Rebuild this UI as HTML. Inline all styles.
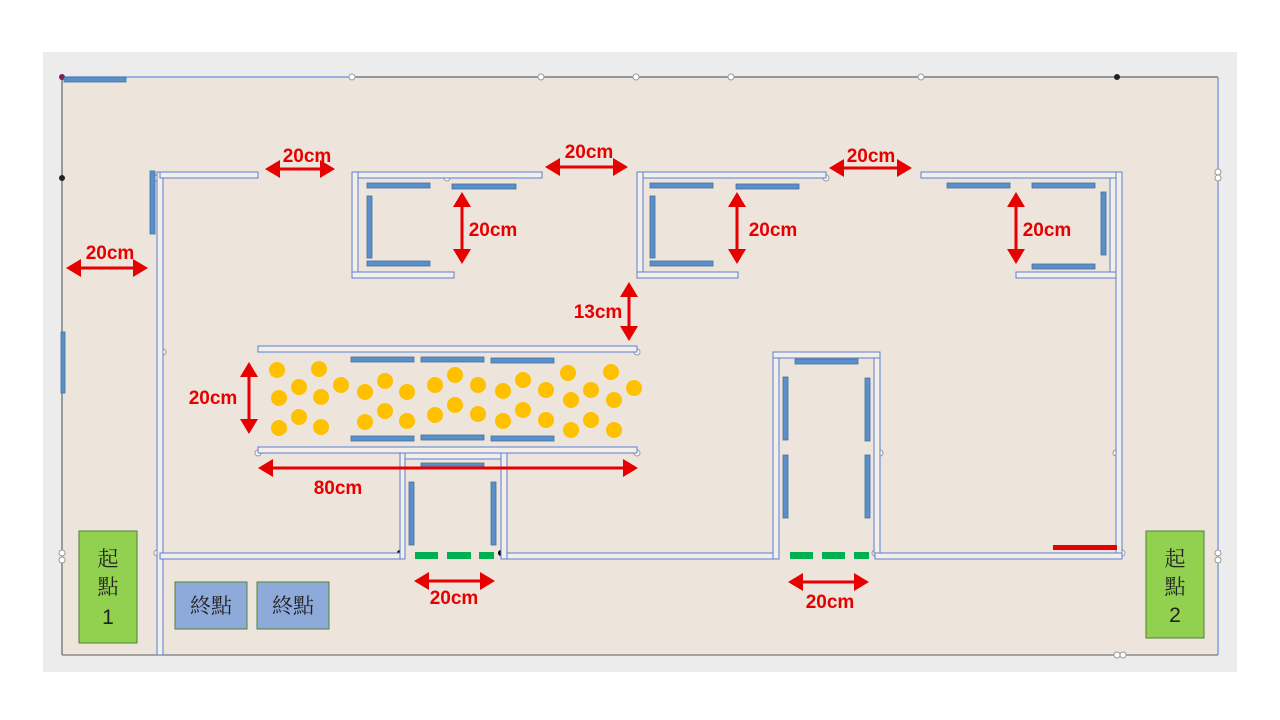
<!DOCTYPE html>
<html><head><meta charset="utf-8"><style>body{margin:0;background:#fff}svg{display:block}</style></head><body>
<svg width="1280" height="720" xmlns="http://www.w3.org/2000/svg" font-family="Liberation Sans, sans-serif">
<defs>
<marker id="h" markerWidth="6" markerHeight="6" refX="4" refY="3" orient="auto-start-reverse" markerUnits="strokeWidth"><path d="M0,0 L5,3 L0,6 z" fill="#e60000"/></marker>
</defs>
<rect x="43" y="52" width="1194" height="620" fill="#ececec"/>
<rect x="62" y="77" width="1156" height="578" fill="#ede5db"/>
<g stroke-width="1.2" fill="none">
<line x1="62" y1="77" x2="352" y2="77" stroke="#6a8ee0"/>
<line x1="352" y1="77" x2="1218" y2="77" stroke="#666"/>
<line x1="62" y1="77" x2="62" y2="655" stroke="#666"/>
<line x1="62" y1="655" x2="1218" y2="655" stroke="#777"/>
<line x1="1218" y1="77" x2="1218" y2="655" stroke="#6a8ee0"/>
</g>
<g fill="#fff" stroke="#999" stroke-width="1">
<circle cx="352" cy="77" r="3"/><circle cx="541" cy="77" r="3"/><circle cx="636" cy="77" r="3"/><circle cx="731" cy="77" r="3"/><circle cx="921" cy="77" r="3"/>
<circle cx="1218" cy="172" r="3"/><circle cx="1218" cy="178" r="3"/><circle cx="1218" cy="553" r="3"/><circle cx="1218" cy="560" r="3"/>
<circle cx="1117" cy="655" r="3"/><circle cx="1123" cy="655" r="3"/><circle cx="62" cy="553" r="3"/><circle cx="62" cy="560" r="3"/>
<circle cx="157" cy="178" r="3"/><circle cx="447" cy="178" r="3"/><circle cx="826" cy="178" r="3"/><circle cx="163" cy="352" r="3"/><circle cx="157" cy="553" r="3"/>
<circle cx="637" cy="352" r="3"/><circle cx="258" cy="453" r="3"/><circle cx="637" cy="453" r="3"/><circle cx="880" cy="453" r="3"/><circle cx="1116" cy="453" r="3"/><circle cx="875" cy="553" r="3"/><circle cx="1122" cy="553" r="3"/>
</g>
<circle cx="1117" cy="77" r="3" fill="#222"/><circle cx="62" cy="178" r="3" fill="#222"/><circle cx="62" cy="77" r="3" fill="#7a2050"/>
<circle cx="400" cy="553" r="3" fill="#000"/><circle cx="501" cy="553" r="3" fill="#000"/>
<g fill="#f3eee7" stroke="#5b7fd6" stroke-width="1">
<rect x="157" y="172" width="6" height="483"/>
<rect x="160" y="172" width="98" height="6"/>
<rect x="352" y="172" width="190" height="6"/><rect x="352" y="172" width="6" height="106"/><rect x="352" y="272" width="102" height="6"/>
<rect x="637" y="172" width="189" height="6"/><rect x="637" y="172" width="6" height="106"/><rect x="637" y="272" width="101" height="6"/>
<rect x="921" y="172" width="201" height="6"/><rect x="1110" y="178" width="6" height="94"/><rect x="1016" y="272" width="100" height="6"/>
<rect x="1116" y="172" width="6" height="386"/>
<rect x="160" y="553" width="240" height="6"/><rect x="507" y="553" width="272" height="6"/><rect x="875" y="553" width="247" height="6"/>
<rect x="258" y="346" width="379" height="6"/><rect x="258" y="447" width="379" height="6"/>
<rect x="400" y="453" width="5" height="106"/><rect x="501" y="453" width="6" height="106"/><rect x="405" y="453" width="96" height="6"/>
<rect x="773" y="352" width="6" height="207"/><rect x="874" y="352" width="6" height="201"/><rect x="773" y="352" width="107" height="6"/>
</g>
<g fill="#5b8fcc" stroke="#41719c" stroke-width="0.8">
<rect x="64" y="77" width="62" height="5"/><rect x="61" y="332" width="4" height="61"/><rect x="150" y="171" width="5" height="63"/>
<rect x="367" y="183" width="63" height="5"/><rect x="452" y="184" width="64" height="5"/><rect x="367" y="196" width="5" height="62"/><rect x="367" y="261" width="63" height="5"/>
<rect x="650" y="183" width="63" height="5"/><rect x="736" y="184" width="63" height="5"/><rect x="650" y="196" width="5" height="62"/><rect x="650" y="261" width="63" height="5"/>
<rect x="947" y="183" width="63" height="5"/><rect x="1032" y="183" width="63" height="5"/><rect x="1101" y="192" width="5" height="63"/><rect x="1032" y="264" width="63" height="5"/>
<rect x="351" y="357" width="63" height="5"/><rect x="421" y="357" width="63" height="5"/><rect x="491" y="358" width="63" height="5"/>
<rect x="351" y="436" width="63" height="5"/><rect x="421" y="435" width="63" height="5"/><rect x="491" y="436" width="63" height="5"/>
<rect x="421" y="463" width="63" height="3"/><rect x="409" y="482" width="5" height="63"/><rect x="491" y="482" width="5" height="63"/>
<rect x="795" y="359" width="63" height="5"/><rect x="783" y="377" width="5" height="63"/><rect x="865" y="378" width="5" height="63"/><rect x="783" y="455" width="5" height="63"/><rect x="865" y="455" width="5" height="63"/>
</g>
<g fill="#00b050">
<rect x="415" y="552" width="23" height="7"/><rect x="447" y="552" width="24" height="7"/><rect x="479" y="552" width="15" height="7"/>
<rect x="790" y="552" width="23" height="7"/><rect x="822" y="552" width="23" height="7"/><rect x="854" y="552" width="15" height="7"/>
</g>
<rect x="1053" y="545" width="64" height="5" fill="#e60000"/>
<g fill="#ffc000">
<circle cx="277" cy="370" r="8"/><circle cx="319" cy="369" r="8"/><circle cx="299" cy="387" r="8"/><circle cx="341" cy="385" r="8"/><circle cx="279" cy="398" r="8"/><circle cx="321" cy="397" r="8"/><circle cx="365" cy="392" r="8"/><circle cx="385" cy="381" r="8"/><circle cx="407" cy="392" r="8"/><circle cx="299" cy="417" r="8"/><circle cx="279" cy="428" r="8"/><circle cx="321" cy="427" r="8"/><circle cx="365" cy="422" r="8"/><circle cx="385" cy="411" r="8"/><circle cx="407" cy="421" r="8"/>
<circle cx="435" cy="385" r="8"/><circle cx="455" cy="375" r="8"/><circle cx="478" cy="385" r="8"/><circle cx="435" cy="415" r="8"/><circle cx="455" cy="405" r="8"/><circle cx="478" cy="414" r="8"/>
<circle cx="503" cy="391" r="8"/><circle cx="523" cy="380" r="8"/><circle cx="546" cy="390" r="8"/><circle cx="503" cy="421" r="8"/><circle cx="523" cy="410" r="8"/><circle cx="546" cy="420" r="8"/>
<circle cx="568" cy="373" r="8"/><circle cx="611" cy="372" r="8"/><circle cx="591" cy="390" r="8"/><circle cx="571" cy="400" r="8"/><circle cx="614" cy="400" r="8"/><circle cx="634" cy="388" r="8"/><circle cx="591" cy="420" r="8"/><circle cx="571" cy="430" r="8"/><circle cx="614" cy="430" r="8"/>
</g>
<g stroke="#e60000" stroke-width="3" marker-start="url(#h)" marker-end="url(#h)">
<line x1="268" y1="169" x2="332" y2="169"/><line x1="548" y1="167" x2="625" y2="167"/><line x1="832" y1="168" x2="909" y2="168"/><line x1="69" y1="268" x2="145" y2="268"/>
<line x1="462" y1="195" x2="462" y2="261"/><line x1="737" y1="195" x2="737" y2="261"/><line x1="1016" y1="195" x2="1016" y2="261"/>
<line x1="629" y1="285" x2="629" y2="338"/><line x1="249" y1="365" x2="249" y2="431"/>
<line x1="261" y1="468" x2="635" y2="468"/><line x1="417" y1="581" x2="492" y2="581"/><line x1="791" y1="582" x2="866" y2="582"/>
</g>
<g fill="#e60000" font-weight="bold" font-size="19" text-anchor="middle">
<text x="307" y="162">20cm</text><text x="589" y="158">20cm</text><text x="871" y="162">20cm</text><text x="110" y="259">20cm</text>
<text x="493" y="236">20cm</text><text x="773" y="236">20cm</text><text x="1047" y="236">20cm</text><text x="598" y="318">13cm</text><text x="213" y="404">20cm</text>
<text x="338" y="494">80cm</text><text x="454" y="604">20cm</text><text x="830" y="608">20cm</text>
</g>
<g stroke="#538135" stroke-width="1"><rect x="79" y="531" width="58" height="112" fill="#92d050"/><rect x="1146" y="531" width="58" height="107" fill="#92d050"/>
<rect x="175" y="582" width="72" height="47" fill="#8eaadb"/><rect x="257" y="582" width="72" height="47" fill="#8eaadb"/></g>
<g font-family="Liberation Sans, Noto Serif CJK SC, Noto Sans CJK TC, sans-serif" font-size="21" fill="#222" text-anchor="middle">
<text x="108" y="566">起</text><text x="108" y="594">點</text><text x="108" y="624">1</text>
<text x="1175" y="566">起</text><text x="1175" y="594">點</text><text x="1175" y="622">2</text>
<text x="211" y="613">終點</text><text x="293" y="613">終點</text>
</g>
</svg>
</body></html>
